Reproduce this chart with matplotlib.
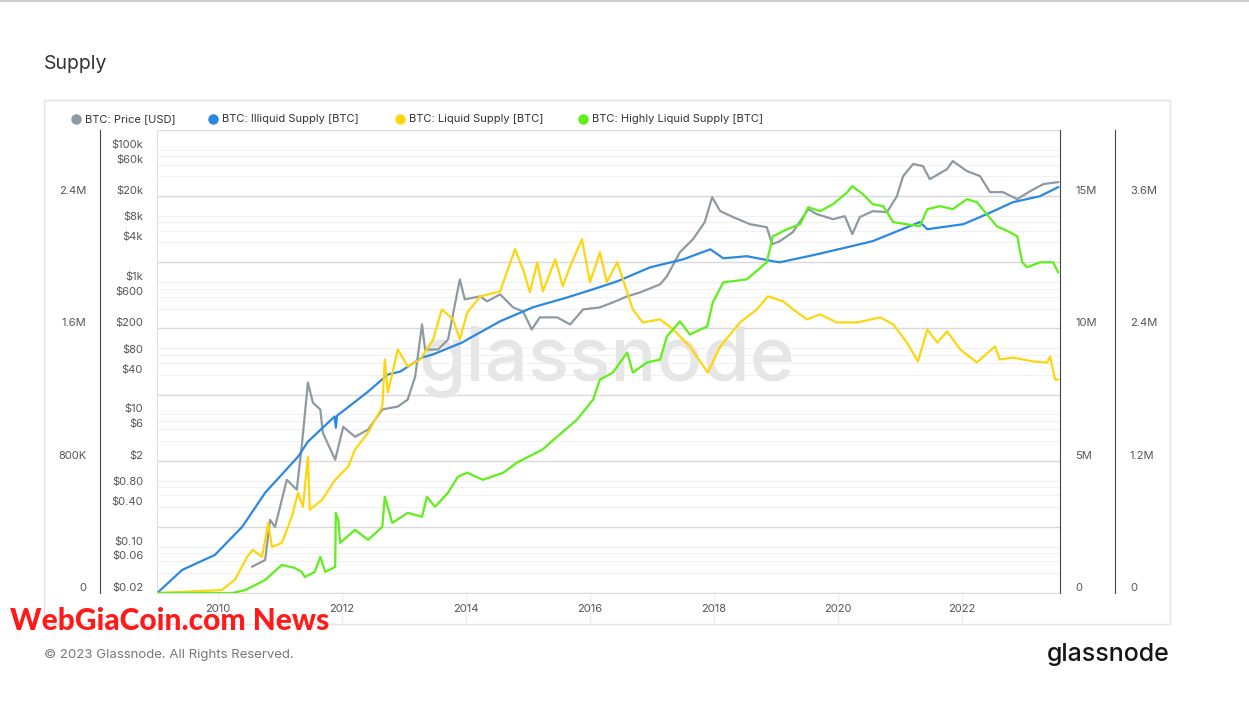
import numpy as np
import matplotlib.pyplot as plt
from matplotlib.lines import Line2D
from matplotlib.patches import Rectangle
from matplotlib.transforms import blended_transform_factory

plt.rcParams['font.family'] = ['Inter', 'DejaVu Sans']

# --- data (supply in millions of BTC) ---
price_years = [2010.55, 2010.76, 2010.84, 2010.92, 2011.11, 2011.27, 2011.35, 2011.45, 2011.53, 2011.65,
               2011.69, 2011.89, 2012.02, 2012.21, 2012.42, 2012.65, 2012.90, 2013.06, 2013.18, 2013.29,
               2013.34, 2013.55, 2013.71, 2013.90, 2013.98, 2014.23, 2014.34, 2014.55, 2014.76, 2014.92,
               2015.06, 2015.19, 2015.47, 2015.68, 2015.89, 2016.16, 2016.37, 2016.60, 2016.81, 2017.13,
               2017.24, 2017.45, 2017.66, 2017.85, 2017.97, 2018.10, 2018.31, 2018.58, 2018.85, 2018.94,
               2019.06, 2019.27, 2019.52, 2019.66, 2019.92, 2020.11, 2020.23, 2020.35, 2020.56, 2020.79,
               2020.95, 2021.05, 2021.21, 2021.37, 2021.48, 2021.76, 2021.85, 2022.08, 2022.29, 2022.45,
               2022.66, 2022.89, 2023.10, 2023.31, 2023.55]
price_usd = [0.05, 0.063, 0.255, 0.20, 1.03, 0.73, 3.26, 30.4, 15.1, 11.9,
             5.3, 2.07, 6.5, 4.6, 5.9, 11.9, 13.2, 16.8, 37.5, 230,
             96, 96, 136, 1100, 550, 610, 513, 655, 416, 361,
             193, 294, 294, 230, 388, 416, 496, 611, 702, 929,
             1228, 2837, 4467, 8080, 19300, 11860, 9620, 7530, 6780, 3750,
             4160, 5700, 12700, 10670, 8970, 9960, 5320, 9620, 11860, 11450,
             20000, 40200, 61100, 57000, 36100, 51300, 67800, 47800, 40200, 23000,
             23000, 18000, 23800, 30400, 32600]

illiquid_years = [2009.02, 2009.42, 2009.95, 2010.39, 2010.76, 2011.29, 2011.45, 2011.88, 2011.90, 2011.92,
                  2012.42, 2012.74, 2012.94, 2013.29, 2013.47, 2013.94, 2014.02, 2014.55, 2015.08, 2015.63,
                  2016.05, 2016.44, 2016.97, 2017.50, 2017.94, 2018.15, 2018.53, 2018.95, 2019.06, 2019.60,
                  2020.15, 2020.56, 2020.95, 2021.32, 2021.44, 2022.02, 2022.40, 2022.82, 2023.26, 2023.55]
illiquid_m = [0, 0.87, 1.44, 2.50, 3.79, 5.15, 5.72, 6.67, 6.25, 6.70,
              7.61, 8.26, 8.37, 8.90, 9.02, 9.47, 9.58, 10.27, 10.80, 11.17,
              11.48, 11.78, 12.31, 12.61, 12.99, 12.65, 12.73, 12.54, 12.50, 12.77,
              13.07, 13.30, 13.67, 14.02, 13.75, 13.94, 14.32, 14.77, 15.00, 15.34]

liquid_years = [2009.02, 2010.06, 2010.27, 2010.47, 2010.56, 2010.71, 2010.81, 2010.87, 2011.03, 2011.19,
                2011.29, 2011.37, 2011.45, 2011.48, 2011.68, 2011.89, 2012.10, 2012.21, 2012.42, 2012.65,
                2012.69, 2012.74, 2012.90, 2013.06, 2013.26, 2013.47, 2013.61, 2013.79, 2013.90, 2014.02,
                2014.23, 2014.55, 2014.79, 2014.92, 2015.03, 2015.15, 2015.24, 2015.44, 2015.56, 2015.68,
                2015.87, 2016.00, 2016.16, 2016.27, 2016.44, 2016.60, 2016.69, 2016.85, 2017.13, 2017.34,
                2017.61, 2017.90, 2018.10, 2018.42, 2018.69, 2018.87, 2019.11, 2019.34, 2019.50, 2019.71,
                2019.98, 2020.31, 2020.68, 2020.89, 2021.11, 2021.29, 2021.44, 2021.60, 2021.76, 2021.97,
                2022.24, 2022.53, 2022.61, 2022.82, 2023.15, 2023.37, 2023.42, 2023.50, 2023.55]
liquid_m = [0, 0.018, 0.079, 0.218, 0.261, 0.218, 0.424, 0.279, 0.303, 0.461,
            0.606, 0.521, 0.824, 0.503, 0.564, 0.685, 0.764, 0.867, 0.970, 1.127,
            1.412, 1.212, 1.473, 1.370, 1.412, 1.533, 1.715, 1.655, 1.533, 1.697,
            1.794, 1.824, 2.079, 1.958, 1.818, 2.000, 1.824, 2.018, 1.855, 1.976,
            2.139, 1.879, 2.061, 1.879, 2.000, 1.818, 1.715, 1.636, 1.655, 1.594,
            1.491, 1.333, 1.491, 1.636, 1.715, 1.794, 1.764, 1.697, 1.655, 1.685,
            1.636, 1.636, 1.667, 1.624, 1.515, 1.400, 1.594, 1.515, 1.582, 1.473,
            1.394, 1.491, 1.412, 1.424, 1.400, 1.394, 1.430, 1.291, 1.291]

highly_years = [2009.02, 2010.23, 2010.44, 2010.76, 2011.03, 2011.24, 2011.35, 2011.40, 2011.56, 2011.65,
                2011.73, 2011.89, 2011.90, 2011.94, 2011.97, 2012.21, 2012.42, 2012.65, 2012.69, 2012.81,
                2013.06, 2013.29, 2013.37, 2013.50, 2013.71, 2013.87, 2014.02, 2014.27, 2014.60, 2014.82,
                2015.23, 2015.47, 2015.79, 2016.05, 2016.16, 2016.37, 2016.60, 2016.69, 2016.92, 2017.13,
                2017.24, 2017.45, 2017.61, 2017.89, 2017.98, 2018.15, 2018.53, 2018.85, 2018.95, 2019.18,
                2019.39, 2019.52, 2019.71, 2019.92, 2020.15, 2020.23, 2020.40, 2020.56, 2020.73, 2020.89,
                2021.11, 2021.32, 2021.44, 2021.65, 2021.85, 2022.08, 2022.24, 2022.40, 2022.56, 2022.77,
                2022.89, 2022.97, 2023.05, 2023.26, 2023.47, 2023.55]
highly_m = [0, 0, 0.027, 0.118, 0.255, 0.227, 0.191, 0.145, 0.191, 0.327,
            0.191, 0.236, 0.727, 0.664, 0.455, 0.573, 0.482, 0.600, 0.873, 0.636,
            0.727, 0.691, 0.873, 0.782, 0.909, 1.055, 1.091, 1.027, 1.091, 1.182,
            1.300, 1.418, 1.573, 1.755, 1.936, 2.000, 2.182, 2.000, 2.091, 2.118,
            2.327, 2.464, 2.345, 2.418, 2.636, 2.818, 2.845, 3.000, 3.236, 3.300,
            3.345, 3.500, 3.464, 3.527, 3.636, 3.691, 3.618, 3.527, 3.509, 3.364,
            3.345, 3.327, 3.482, 3.509, 3.482, 3.573, 3.545, 3.436, 3.327, 3.273,
            3.236, 3.000, 2.955, 3.000, 3.000, 2.909]

year_ticks = [2010, 2012, 2014, 2016, 2018, 2020, 2022]
price_ticks = [0.02, 0.06, 0.10, 0.40, 0.80, 2, 6, 10, 40, 80, 200, 600, 1000, 4000, 8000, 20000, 60000, 100000]
price_labels = ['$0.02', '$0.06', '$0.10', '$0.40', '$0.80', '$2', '$6', '$10', '$40', '$80',
                '$200', '$600', '$1k', '$4k', '$8k', '$20k', '$60k', '$100k']
illiquid_ticks = [0, 5, 10, 15]
illiquid_labels = ['0', '5M', '10M', '15M']
liquid_ticks = [0, 0.8, 1.6, 2.4]
liquid_labels = ['0', '800K', '1.6M', '2.4M']
highly_ticks = [0, 1.2, 2.4, 3.6]
highly_labels = ['0', '1.2M', '2.4M', '3.6M']

legend_labels = ['BTC: Price [USD]', 'BTC: Illiquid Supply [BTC]',
                 'BTC: Liquid Supply [BTC]', 'BTC: Highly Liquid Supply [BTC]']
colors = ['#8e9aa1', '#2a88e4', '#fdd60f', '#5fef1a']

W, H = 1249, 701
fig = plt.figure(figsize=(W / 100, H / 100), dpi=100)


def fx(px):
    return px / W


def fy(py):
    return 1 - py / H


# page line and panel frame
fig.add_artist(Line2D([0, 1], [fy(0.5), fy(0.5)], color='#cccccc', lw=1.5))
fig.add_artist(Rectangle((fx(44), fy(624)), fx(1170) - fx(44), (624 - 100) / H,
                         fill=False, ec='#e4e4e4', lw=1))

ax = fig.add_axes([fx(157), fy(593), (1060 - 157) / W, (593 - 130) / H])
ax.set_yscale('log')
ax.set_ylim(0.02, 2e5)
ax.set_xlim(2009.016, 2023.58)

# gridlines
for k in range(8):
    base = 0.02 * 10 ** k
    ax.axhline(base, color='#d9d9d9', lw=1, zorder=0.3)
    if k < 7:
        for m in [2, 3, 4, 5]:
            ax.axhline(base * m, color='#f1f1f1', lw=0.8, zorder=0.2)

ax.set_yticks(price_ticks)
ax.set_yticklabels(price_labels)
ax.minorticks_off()
ax.tick_params(axis='y', length=0, pad=10, labelsize=8, labelcolor='#555555')
ax.set_xticks(year_ticks)
ax.set_xticklabels([str(y) for y in year_ticks])
ax.tick_params(axis='x', length=0, pad=8, labelsize=8, labelcolor='#555555')
for s in ['left', 'bottom', 'top']:
    ax.spines[s].set_color('#dedede')
ax.spines['right'].set_visible(False)

trans = blended_transform_factory(ax.transData, ax.transAxes)
for yr in year_ticks:
    ax.plot([yr, yr], [0, -0.066], transform=trans, color='#ededed', lw=1, clip_on=False, zorder=0.1)

ax.text(0.498, 0.50, 'glassnode', transform=ax.transAxes, fontsize=55, color='#e6e6e6',
        ha='center', va='center', fontweight='medium', zorder=1)

ax.plot(price_years, price_usd, color=colors[0], lw=1.6, zorder=2)

# illiquid supply - right inner axis
ax2 = ax.twinx()
ax2.set_ylim(0, 17.5)
ax2.plot(illiquid_years, illiquid_m, color=colors[1], lw=1.6)
ax2.set_yticks(illiquid_ticks)
ax2.set_yticklabels(illiquid_labels)
ax2.tick_params(axis='y', length=0, pad=10.8, labelsize=8, labelcolor='#555555')
for s in ['left', 'bottom', 'top']:
    ax2.spines[s].set_visible(False)
ax2.spines['right'].set_color('#444444')

# liquid supply - left outer axis
ax3 = ax.twinx()
ax3.set_ylim(0, 2.8)
ax3.plot(liquid_years, liquid_m, color=colors[2], lw=1.6)
ax3.yaxis.set_ticks_position('left')
ax3.spines['left'].set_position(('outward', 41))
ax3.set_yticks(liquid_ticks)
ax3.set_yticklabels(liquid_labels)
ax3.tick_params(axis='y', length=0, pad=10, labelsize=8, labelcolor='#555555')
for s in ['right', 'bottom', 'top']:
    ax3.spines[s].set_visible(False)
ax3.spines['left'].set_visible(True)
ax3.spines['left'].set_color('#444444')

# highly liquid supply - right outer axis
ax4 = ax.twinx()
ax4.set_ylim(0, 4.2)
ax4.plot(highly_years, highly_m, color=colors[3], lw=1.6)
ax4.spines['right'].set_position(('outward', 39.6))
ax4.set_yticks(highly_ticks)
ax4.set_yticklabels(highly_labels)
ax4.tick_params(axis='y', length=0, pad=10.8, labelsize=8, labelcolor='#555555')
for s in ['left', 'bottom', 'top']:
    ax4.spines[s].set_visible(False)
ax4.spines['right'].set_color('#444444')

for a in [ax, ax2, ax3, ax4]:
    for lab in a.get_yticklabels():
        lab.set_verticalalignment('bottom')

# legend
marker_x = [76, 213, 400, 583]
for mx, lab, c in zip(marker_x, legend_labels, colors):
    fig.add_artist(Line2D([fx(mx)], [fy(119)], marker='o', ms=6.5, color=c, mec=c, lw=0))
    fig.text(fx(mx + 9), fy(119), lab, fontsize=8, color='#333333', va='center')

fig.text(fx(44), fy(64), 'Supply', fontsize=14, color='#333333', va='center')
fig.text(fx(44), fy(655), '\u00a9 2023 Glassnode. All Rights Reserved.', fontsize=9.5,
         color='#777777', va='center')
fig.text(fx(1170), fy(654), 'glassnode', fontsize=18, color='#151515', ha='right',
         va='center', fontweight='medium')
fig.text(fx(10), fy(621), 'WebGiaCoin.com News', fontsize=21.5, color='#ff1a1a', va='center',
         fontweight='black', family=['Lato', 'DejaVu Sans'])

fig.savefig('out.png', dpi=100)
